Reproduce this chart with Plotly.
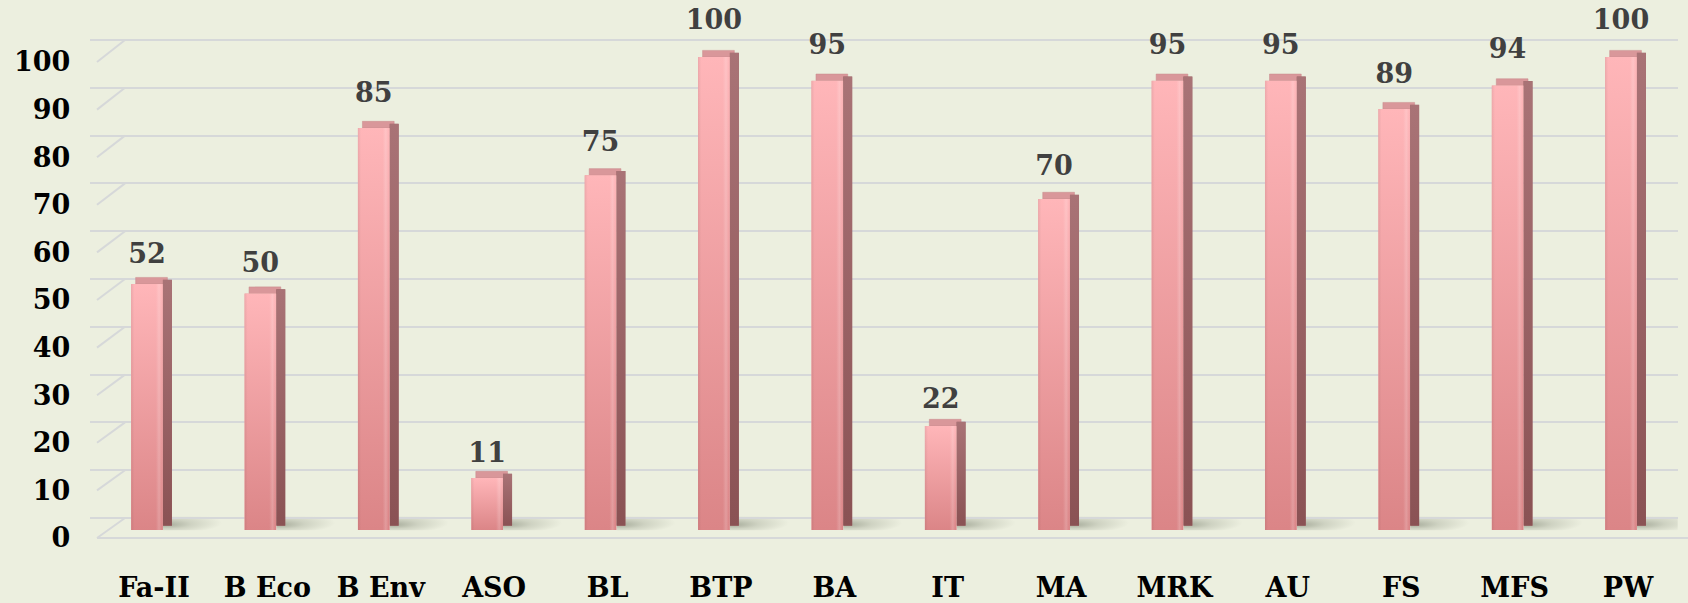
import base64
import plotly.graph_objects as go

# ---------------- data ----------------
categories = ["Fa-II", "B Eco", "B Env", "ASO", "BL", "BTP", "BA", "IT",
              "MA", "MRK", "AU", "FS", "MFS", "PW"]
values = [52, 50, 85, 11, 75, 100, 95, 22, 70, 95, 95, 89, 94, 100]
y_ticks = [0, 10, 20, 30, 40, 50, 60, 70, 80, 90, 100]

# ---------------- geometry / style ----------------
W, H = 1688, 603
BG = "#ECEFDF"
GRID = "#D6D8D9"
FONT = "DejaVu Serif"

D0 = 38 / H                      # bottom of all y domains (paper)
BOTTOM_PX = H * (1 - D0)


def y_range(zero_px, hundred_px):
    per = (zero_px - hundred_px) / 100.0
    return [-(BOTTOM_PX - zero_px) / per, zero_px / per]


def to_paper(v, rng):
    frac = (v - rng[0]) / (rng[1] - rng[0])
    return D0 + frac * (1 - D0)


R_BACK = y_range(518, 40)        # back wall (gridlines)
R_BAR = y_range(530, 57)         # bar front faces
R_FRONT = y_range(538, 62)       # front edge (tick labels)
R_LABEL = y_range(522, 36)       # data labels

X_LEFT_FRONT = 97 / W
X_LEFT_BACK = 125 / W
XD = [90.3 / W, 1677.7 / W]
xr = [-0.5, len(categories) - 0.5]
xs = list(range(len(categories)))

FRONT_W = 0.28
SIDE_W = 0.08
SIDE_BASE = 0.9
DEPTH = 1.4


def b64(svg):
    return "data:image/svg+xml;base64," + base64.b64encode(svg.encode()).decode()


def svg_uri(top, bottom, highlight):
    hl = ""
    if highlight:
        hl = ("<linearGradient id='h' x1='0' y1='0' x2='1' y2='0'>"
              "<stop offset='0' stop-color='#000' stop-opacity='0.07'/>"
              "<stop offset='0.1' stop-color='#000' stop-opacity='0'/>"
              "<stop offset='0.78' stop-color='#fff' stop-opacity='0'/>"
              "<stop offset='0.88' stop-color='#fff' stop-opacity='0.18'/>"
              "<stop offset='0.97' stop-color='#fff' stop-opacity='0'/>"
              "<stop offset='1' stop-color='#000' stop-opacity='0.08'/>"
              "</linearGradient>")
    svg = ("<svg xmlns='http://www.w3.org/2000/svg' width='40' height='100' "
           "viewBox='0 0 40 100' preserveAspectRatio='none'><defs>"
           "<linearGradient id='g' x1='0' y1='0' x2='0' y2='1'>"
           f"<stop offset='0' stop-color='{top}'/><stop offset='1' stop-color='{bottom}'/>"
           "</linearGradient>" + hl + "</defs>"
           "<rect width='40' height='100' fill='url(#g)'/>" +
           ("<rect width='40' height='100' fill='url(#h)'/>" if highlight else "") +
           "</svg>")
    return b64(svg)


FRONT_IMG = svg_uri("#FFB6B9", "#DB8587", True)
SIDE_IMG = svg_uri("#A97376", "#8A5254", False)
SHADOW_IMG = b64(
    "<svg xmlns='http://www.w3.org/2000/svg' width='100' height='20' "
    "viewBox='0 0 100 20' preserveAspectRatio='none'><defs>"
    "<radialGradient id='s' cx='0.12' cy='0.45' r='0.75' fx='0.05' fy='0.6'>"
    "<stop offset='0' stop-color='#4A5240' stop-opacity='0.42'/>"
    "<stop offset='0.45' stop-color='#4A5240' stop-opacity='0.18'/>"
    "<stop offset='1' stop-color='#4A5240' stop-opacity='0'/>"
    "</radialGradient></defs>"
    "<rect width='100' height='20' fill='url(#s)'/></svg>")

fig = go.Figure()

# data labels
fig.add_trace(go.Scatter(
    x=xs, y=values, mode="text", text=[str(v) for v in values],
    textposition="top center",
    textfont=dict(family=FONT, size=27, color="#404040", weight="bold"),
    xaxis="x2", yaxis="y4", cliponaxis=False, hoverinfo="skip", showlegend=False))

# top faces
fig.add_trace(go.Bar(
    x=xs, y=[DEPTH] * len(xs), base=values, offset=-FRONT_W / 2 + 0.04, width=FRONT_W,
    marker=dict(color="#D9979A", line=dict(color="#C98A8D", width=0.5)),
    xaxis="x2", yaxis="y2", hoverinfo="skip", showlegend=False))
# side faces
fig.add_trace(go.Bar(
    x=xs, y=values, base=SIDE_BASE, offset=FRONT_W / 2, width=SIDE_W,
    marker=dict(color="#9B6265", line_width=0),
    xaxis="x2", yaxis="y2", hoverinfo="skip", showlegend=False))
# front faces
fig.add_trace(go.Bar(
    x=xs, y=values, offset=-FRONT_W / 2, width=FRONT_W,
    marker=dict(color="#EE9FA2", line_width=0),
    xaxis="x2", yaxis="y2", name="", showlegend=False))

# dummy trace so the front tick-label axis is drawn
fig.add_trace(go.Scatter(x=[None], y=[None], xaxis="x2", yaxis="y3",
                         showlegend=False, hoverinfo="skip"))

images = []
# soft floor shadows behind each bar (back-wall units)
for i in xs:
    images.append(dict(source=SHADOW_IMG, xref="x2", yref="y",
                       x=i + FRONT_W / 2, y=0.3, sizex=0.6, sizey=2.9,
                       xanchor="left", yanchor="top", sizing="stretch", layer="below"))
# gradient shading laid exactly over the bar rectangles
for i, v in zip(xs, values):
    images.append(dict(source=FRONT_IMG, xref="x2", yref="y2",
                       x=i - FRONT_W / 2, y=v, sizex=FRONT_W, sizey=v,
                       xanchor="left", yanchor="top", sizing="stretch", layer="above"))
    images.append(dict(source=SIDE_IMG, xref="x2", yref="y2",
                       x=i + FRONT_W / 2, y=v + SIDE_BASE, sizex=SIDE_W, sizey=v,
                       xanchor="left", yanchor="top", sizing="stretch", layer="above"))

# connectors between front edge and back wall + floor front edge
shapes = []
for t in y_ticks:
    shapes.append(dict(type="line", xref="paper", yref="paper",
                       x0=X_LEFT_FRONT, y0=to_paper(t, R_FRONT),
                       x1=X_LEFT_BACK, y1=to_paper(t, R_BACK),
                       line=dict(color=GRID, width=2), layer="below"))
shapes.append(dict(type="line", xref="paper", yref="paper",
                   x0=X_LEFT_FRONT, y0=to_paper(0, R_FRONT),
                   x1=1, y1=to_paper(0, R_FRONT),
                   line=dict(color=GRID, width=2), layer="below"))

tickfont = dict(family=FONT, size=27, color="#000000", weight="bold")

fig.update_layout(
    width=W, height=H,
    paper_bgcolor=BG, plot_bgcolor="rgba(0,0,0,0)",
    margin=dict(l=0, r=0, t=0, b=0, autoexpand=False),
    barmode="overlay", showlegend=False,
    shapes=shapes, images=images,
    xaxis=dict(domain=[X_LEFT_BACK, 1], range=[0, 1], visible=False, fixedrange=True),
    yaxis=dict(domain=[D0, 1], range=R_BACK, anchor="x", tickvals=y_ticks,
               showticklabels=False, showgrid=True, gridcolor=GRID, gridwidth=2,
               zeroline=False, showline=False, ticks=""),
    xaxis2=dict(domain=XD, range=xr, anchor="y2", tickvals=xs, ticktext=categories,
                tickfont=tickfont, showgrid=False, zeroline=False, showline=False,
                ticks="", ticklabelstandoff=4, ticklabelshift=7, automargin=False),
    yaxis2=dict(domain=[D0, 1], range=R_BAR, anchor="x2", visible=False),
    yaxis3=dict(domain=[D0, 1], range=R_FRONT, anchor="x2", tickvals=y_ticks,
                tickfont=tickfont, showgrid=False, zeroline=False, showline=False,
                ticks="", ticklabelstandoff=19, automargin=False),
    yaxis4=dict(domain=[D0, 1], range=R_LABEL, anchor="x2", visible=False),
)

fig.write_html("out.html", config={"displayModeBar": False},
               post_script="document.body.style.margin='0';document.body.style.padding='0';")
